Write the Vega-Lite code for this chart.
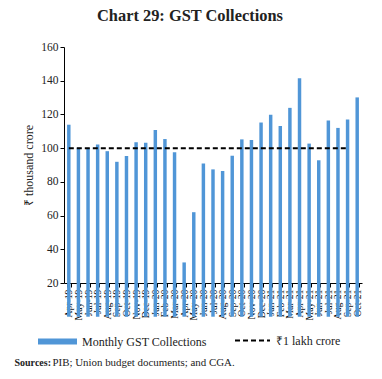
{
  "$schema": "https://vega.github.io/schema/vega-lite/v6.json",
  "width": 298,
  "height": 236,
  "autosize": {"type": "none"},
  "padding": {"left": 64, "top": 47, "right": 20, "bottom": 96},
  "background": "white",
  "title": {
    "text": "Chart 29: GST Collections",
    "font": "Liberation Serif",
    "fontSize": 16.4,
    "fontWeight": "bold",
    "color": "#222222",
    "anchor": "start",
    "frame": "group",
    "dx": 33,
    "offset": 17
  },
  "data": {
    "values": [
      {"month": "Apr-19", "gst": 113.9, "lakh": 100},
      {"month": "May-19", "gst": 100.3, "lakh": 100},
      {"month": "Jun-19", "gst": 99.9, "lakh": 100},
      {"month": "Jul-19", "gst": 102.1, "lakh": 100},
      {"month": "Aug-19", "gst": 98.2, "lakh": 100},
      {"month": "Sep-19", "gst": 91.9, "lakh": 100},
      {"month": "Oct-19", "gst": 95.4, "lakh": 100},
      {"month": "Nov-19", "gst": 103.5, "lakh": 100},
      {"month": "Dec-19", "gst": 103.2, "lakh": 100},
      {"month": "Jan-20", "gst": 110.8, "lakh": 100},
      {"month": "Feb-20", "gst": 105.4, "lakh": 100},
      {"month": "Mar-20", "gst": 97.6, "lakh": 100},
      {"month": "Apr-20", "gst": 32.2, "lakh": 100},
      {"month": "May-20", "gst": 62.0, "lakh": 100},
      {"month": "Jun-20", "gst": 90.9, "lakh": 100},
      {"month": "Jul-20", "gst": 87.4, "lakh": 100},
      {"month": "Aug-20", "gst": 86.4, "lakh": 100},
      {"month": "Sep-20", "gst": 95.5, "lakh": 100},
      {"month": "Oct-20", "gst": 105.2, "lakh": 100},
      {"month": "Nov-20", "gst": 104.9, "lakh": 100},
      {"month": "Dec-20", "gst": 115.2, "lakh": 100},
      {"month": "Jan-21", "gst": 119.8, "lakh": 100},
      {"month": "Feb-21", "gst": 113.1, "lakh": 100},
      {"month": "Mar-21", "gst": 123.9, "lakh": 100},
      {"month": "Apr-21", "gst": 141.4, "lakh": 100},
      {"month": "May-21", "gst": 102.7, "lakh": 100},
      {"month": "Jun-21", "gst": 92.8, "lakh": 100},
      {"month": "Jul-21", "gst": 116.4, "lakh": 100},
      {"month": "Aug-21", "gst": 112.0, "lakh": 100},
      {"month": "Sep-21", "gst": 117.0, "lakh": 100},
      {"month": "Oct-21", "gst": 130.1, "lakh": null}
    ]
  },
  "encoding": {
    "x": {
      "field": "month",
      "type": "ordinal",
      "sort": null,
      "scale": {"paddingInner": 0.64, "paddingOuter": 0.32}
    }
  },
  "layer": [
    {
      "mark": {"type": "bar"},
      "encoding": {
        "x": {
          "field": "month",
          "type": "ordinal",
          "sort": null,
          "axis": {
            "orient": "bottom",
            "tickBand": "extent",
            "labelAngle": -90,
            "labelAlign": "right",
            "labelBaseline": "middle",
            "labelOverlap": false,
            "labelFont": "Liberation Serif",
            "labelFontSize": 9.8,
            "labelColor": "#111111",
            "labelPadding": 2,
            "domainColor": "#000000",
            "tickColor": "#000000",
            "tickSize": 4,
            "title": "PIB; Union budget documents; and CGA.",
            "titleFont": "Liberation Serif",
            "titleFontSize": 10.9,
            "titleFontWeight": "normal",
            "titleColor": "#222222",
            "titleX": -12,
            "titleY": 82,
            "titleAlign": "left",
            "titleBaseline": "alphabetic",
            "titleAngle": 0
          }
        },
        "y": {
          "field": "gst",
          "type": "quantitative",
          "scale": {"domain": [20, 160], "nice": false, "zero": false},
          "axis": {
            "values": [20, 40, 60, 80, 100, 120, 140, 160],
            "tickCount": 8,
            "grid": false,
            "labelOverlap": false,
            "labelFlush": false,
            "labelFont": "Liberation Serif",
            "labelFontSize": 11.5,
            "labelColor": "#222222",
            "labelPadding": 2,
            "domainColor": "#000000",
            "tickColor": "#000000",
            "tickSize": 4,
            "title": "₹ thousand crore",
            "titleFont": "Liberation Serif",
            "titleFontSize": 12,
            "titleFontWeight": "normal",
            "titleColor": "#222222",
            "titlePadding": 5
          }
        },
        "fill": {
          "datum": "Monthly GST Collections",
          "type": "nominal",
          "scale": {"range": ["#5096d7"]},
          "legend": {
            "orient": "none",
            "legendX": -26,
            "legendY": 275,
            "title": null,
            "symbolType": "M-1,-0.15H1V0.15H-1Z",
            "symbolSize": 1521,
            "symbolStrokeWidth": 0,
            "labelFont": "Liberation Serif",
            "labelFontSize": 12,
            "labelColor": "#222222",
            "labelOffset": 5
          }
        }
      }
    },
    {
      "mark": {"type": "line", "color": "#000000", "strokeWidth": 2},
      "encoding": {
        "x": {
          "field": "month",
          "type": "ordinal",
          "sort": null,
          "axis": {
            "orient": "bottom",
            "labels": false,
            "ticks": false,
            "domain": false,
            "grid": false,
            "title": "Sources:",
            "titleFont": "Liberation Serif",
            "titleFontSize": 10,
            "titleFontWeight": "bold",
            "titleColor": "#222222",
            "titleX": -50,
            "titleY": 82,
            "titleAlign": "left",
            "titleBaseline": "alphabetic",
            "titleAngle": 0
          }
        },
        "y": {
          "field": "lakh",
          "type": "quantitative",
          "axis": {
            "values": [20, 40, 60, 80, 100, 120, 140, 160],
            "tickCount": 8,
            "grid": false,
            "labelOverlap": false,
            "labelFlush": false,
            "labelFont": "Liberation Serif",
            "labelFontSize": 11.5,
            "labelColor": "#222222",
            "labelPadding": 2,
            "domainColor": "#000000",
            "tickColor": "#000000",
            "tickSize": 4,
            "title": "₹ thousand crore",
            "titleFont": "Liberation Serif",
            "titleFontSize": 12,
            "titleFontWeight": "normal",
            "titleColor": "#222222",
            "titlePadding": 5
          }
        },
        "strokeDash": {
          "datum": "₹1 lakh crore",
          "type": "nominal",
          "scale": {"range": [[5, 3]]},
          "legend": {
            "orient": "none",
            "legendX": 170,
            "legendY": 275,
            "title": null,
            "symbolType": "stroke",
            "symbolSize": 1225,
            "symbolStrokeWidth": 2,
            "symbolStrokeColor": "#000000",
            "labelFont": "Liberation Serif",
            "labelFontSize": 12,
            "labelColor": "#222222",
            "labelOffset": 5
          }
        }
      }
    }
  ],
  "resolve": {"axis": {"x": "independent"}},
  "config": {
    "view": {"stroke": null},
    "axis": {"labelOverlap": false}
  }
}
